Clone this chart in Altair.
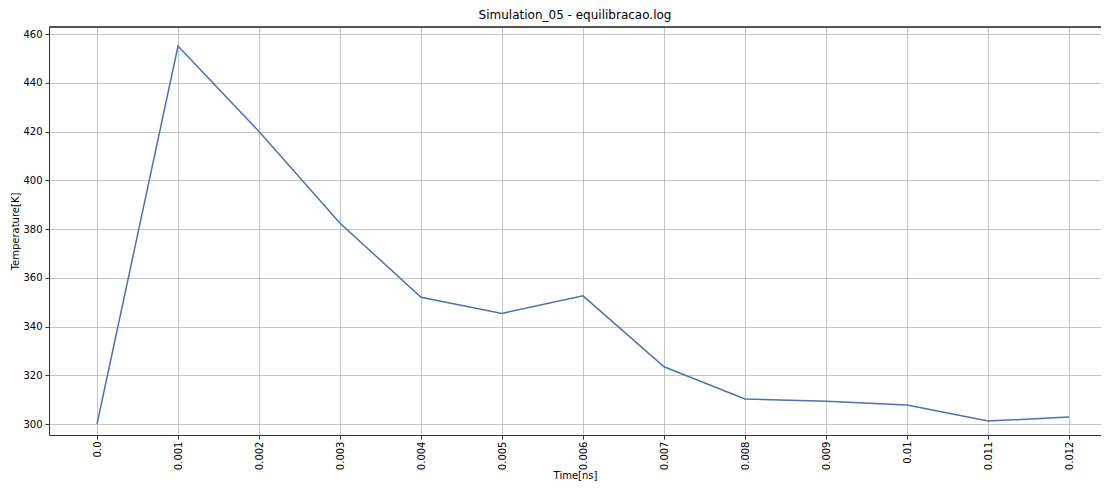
import altair as alt
import pandas as pd

time_ns = [0.0, 0.001, 0.002, 0.003, 0.004, 0.005, 0.006, 0.007, 0.008, 0.009, 0.01, 0.011, 0.012]
tick_labels = ["0.0", "0.001", "0.002", "0.003", "0.004", "0.005", "0.006",
               "0.007", "0.008", "0.009", "0.01", "0.011", "0.012"]
temperature = [300.0, 455.1, 420.0, 382.4, 352.0, 345.4, 352.6, 323.5, 310.3, 309.3, 307.8, 301.2, 302.9]
y_ticks = [300, 320, 340, 360, 380, 400, 420, 440, 460]

df = pd.DataFrame({"t": time_ns, "T": temperature})

label_js = "[" + ",".join("'" + s + "'" for s in tick_labels) + "]"

font = "DejaVu Sans"
W, H = 1052, 408

line = alt.Chart(df).mark_line(color="#4c72b0", strokeWidth=1.5).encode(
    x=alt.X("t:Q",
            scale=alt.Scale(domain=[-0.000593, 0.012395], nice=False, zero=False),
            axis=alt.Axis(values=time_ns, title="Time[ns]",
                          labelExpr=label_js + "[round(datum.value*1000)]",
                          labelAngle=270, labelFontSize=10, labelFont=font,
                          titleFont=font, titleFontSize=10, titleFontWeight="normal",
                          titlePadding=1, labelPadding=2,
                          grid=True, gridColor="#c4c4c4", gridWidth=1,
                          tickColor="#333333", tickSize=4, domainColor="#333333",
                          labelColor="#000000", titleColor="#000000")),
    y=alt.Y("T:Q",
            scale=alt.Scale(domain=[295.49, 462.9], nice=False, zero=False),
            axis=alt.Axis(values=y_ticks, title="Temperature[K]",
                          labelFontSize=10, labelFont=font,
                          titleFont=font, titleFontSize=10, titleFontWeight="normal",
                          titlePadding=2, labelPadding=3,
                          grid=True, gridColor="#c4c4c4", gridWidth=1,
                          tickColor="#333333", tickSize=4, domainColor="#333333",
                          labelColor="#000000", titleColor="#000000")),
)

top_border = alt.Chart(df).mark_rule(color="#555555", strokeWidth=1).encode(
    x=alt.value(0), x2=alt.value(W), y=alt.value(0)
)

chart = alt.layer(line, top_border).properties(
    width=W, height=H,
    title=alt.TitleParams("Simulation_05 - equilibracao.log", font=font, fontSize=12,
                          fontWeight="normal", color="#000000", offset=5),
    autosize=alt.AutoSizeParams(type="none"),
    padding={"left": 41, "top": 19, "right": 0, "bottom": 48},
).configure_view(stroke=None)

chart.save("out.html", embed_options={"renderer": "svg", "actions": False})
